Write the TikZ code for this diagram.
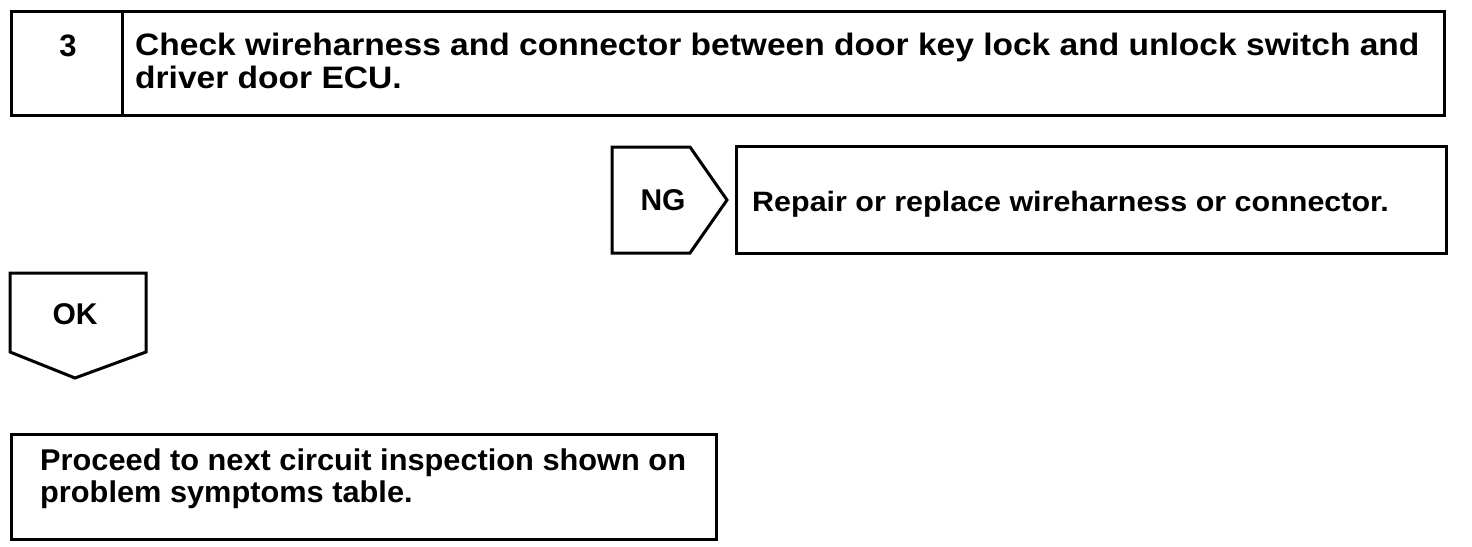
\documentclass[tikz,border=0pt]{standalone}
\usepackage{fontspec}
\setmainfont{Liberation Sans}
\newcommand{\wideby}[2]{\scalebox{#1}[1]{#2}}
\begin{document}
\begin{tikzpicture}[x=1pt,y=-1pt,
  frame/.style={draw=black,line width=3pt,line join=miter},
  txt/.style={font=\fontsize{30}{32}\selectfont\bfseries,inner sep=0pt,anchor=base west},
  ctxt/.style={font=\fontsize{30}{32}\selectfont\bfseries,inner sep=0pt}]
\useasboundingbox (0,0) rectangle (1472,546);
% top box
\node[frame,minimum width=1433pt,minimum height=104pt,inner sep=0pt,anchor=north west] (top) at (10,10) {};
\coordinate (divt) at (122,10);
\coordinate (divb) at (122,114);
\draw[frame] (divt) -- (divb);
\node[ctxt,font=\fontsize{31}{32}\selectfont\bfseries] (num) at (68,46) {3};
\node[txt,font=\fontsize{31}{32}\selectfont\bfseries] (t1) at (135,55.5) {\wideby{1.082}{Check wireharness and connector between door key lock and unlock switch and}};
\node[txt,font=\fontsize{31}{32}\selectfont\bfseries] (t2) at (135,88) {\wideby{1.082}{driver door ECU.}};
% NG
\coordinate (ng1) at (612,147);
\coordinate (ng2) at (690,147);
\coordinate (ng3) at (727,200);
\coordinate (ng4) at (690,253);
\coordinate (ng5) at (612,253);
\draw[frame] (ng1) -- (ng2) -- (ng3) -- (ng4) -- (ng5) -- cycle;
\node[ctxt] (ng) at (663,200) {NG};
\node[frame,minimum width=710pt,minimum height=107pt,inner sep=0pt,anchor=north west] (rep) at (735,145) {};
\node[txt,font=\fontsize{28}{32}\selectfont\bfseries] (rept) at (752,211) {\wideby{1.088}{Repair or replace wireharness or connector.}};
% OK
\coordinate (ok1) at (10,273);
\coordinate (ok2) at (146,273);
\coordinate (ok3) at (146,352);
\coordinate (ok4) at (75,378);
\coordinate (ok5) at (10,352);
\draw[frame] (ok1) -- (ok2) -- (ok3) -- (ok4) -- (ok5) -- cycle;
\node[ctxt] (ok) at (75,314) {OK};
% bottom box
\node[frame,minimum width=705pt,minimum height=105pt,inner sep=0pt,anchor=north west] (nxt) at (10,433) {};
\node[txt] (b1) at (40,470) {\wideby{1.025}{Proceed to next circuit inspection shown on}};
\node[txt] (b2) at (40,502) {\wideby{1.025}{problem symptoms table.}};
\end{tikzpicture}
\end{document}
